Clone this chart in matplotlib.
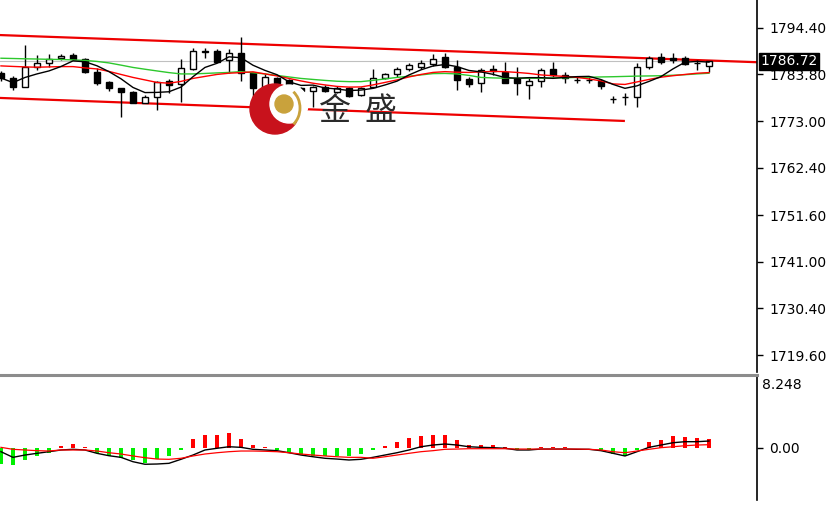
import matplotlib.pyplot as plt
import matplotlib.patches as mpatches
import numpy as np
import pandas as pd

# K线数据 (开, 高, 低, 收)
opens = [1784.0, 1782.85, 1780.8, 1785.36, 1786.27, 1787.41, 1788.1, 1787.2, 1784.35, 1781.9,
         1780.56, 1779.8, 1777.3, 1778.5, 1782.2, 1781.5, 1784.9, 1788.9, 1789.15, 1786.9,
         1788.7, 1784.0, 1780.56, 1782.85, 1782.5, 1780.56, 1779.9, 1780.9, 1779.8, 1780.56,
         1779.0, 1780.9, 1782.85, 1783.8, 1785.0, 1785.5, 1786.0, 1787.6, 1785.5, 1782.6,
         1781.7, 1784.9, 1784.35, 1782.85, 1781.3, 1782.1, 1784.9, 1783.6, 1782.5, 1782.5,
         1782.2, 1778.1, 1778.5, 1778.65, 1785.35, 1787.6, 1787.4, 1787.4, 1786.27, 1785.7]
highs = [1784.5, 1783.4, 1790.45, 1788.17, 1788.4, 1788.33, 1788.7, 1787.4, 1785.1, 1782.3,
         1780.6, 1780.0, 1779.0, 1782.2, 1782.6, 1787.2, 1789.7, 1789.7, 1789.5, 1789.5,
         1792.3, 1784.35, 1783.76, 1783.2, 1782.7, 1780.9, 1781.0, 1781.2, 1781.1, 1780.9,
         1780.9, 1784.9, 1784.1, 1785.4, 1786.4, 1787.0, 1788.3, 1788.55, 1786.9, 1783.1,
         1785.1, 1785.9, 1786.6, 1785.5, 1783.2, 1785.1, 1786.6, 1784.35, 1783.1, 1783.1,
         1782.6, 1778.8, 1779.4, 1786.27, 1788.0, 1788.55, 1788.55, 1787.9, 1786.9, 1786.72]
lows = [1782.2, 1780.2, 1780.8, 1784.74, 1785.5, 1787.0, 1787.0, 1784.0, 1781.3, 1779.9,
        1774.1, 1777.1, 1777.1, 1775.6, 1779.4, 1777.5, 1784.74, 1787.4, 1786.5, 1784.1,
        1782.1, 1777.2, 1779.8, 1781.6, 1780.2, 1776.4, 1776.3, 1779.8, 1779.4, 1778.5,
        1778.7, 1780.56, 1782.6, 1783.2, 1784.6, 1784.9, 1785.7, 1785.1, 1780.2, 1780.8,
        1779.6, 1783.6, 1781.84, 1779.0, 1778.05, 1780.9, 1783.2, 1781.7, 1781.7, 1781.7,
        1780.5, 1777.1, 1776.75, 1776.2, 1785.0, 1786.1, 1786.3, 1785.9, 1784.75, 1784.35]
closes = [1782.9, 1780.8, 1785.35, 1786.27, 1787.25, 1787.94, 1787.2, 1784.35, 1781.7, 1780.56,
          1779.8, 1777.3, 1778.5, 1781.9, 1781.3, 1785.1, 1789.15, 1789.1, 1786.6, 1788.7,
          1784.1, 1780.56, 1783.2, 1781.7, 1780.6, 1780.0, 1780.9, 1779.9, 1780.56, 1778.8,
          1780.56, 1782.85, 1783.76, 1784.9, 1785.9, 1786.4, 1787.2, 1785.5, 1782.5, 1781.5,
          1784.75, 1784.4, 1781.84, 1781.7, 1782.2, 1784.75, 1783.6, 1783.0, 1782.5, 1782.5,
          1781.1, 1778.1, 1778.5, 1785.35, 1787.55, 1786.6, 1786.9, 1786.1, 1786.27, 1786.72]

# 均线
ma_red = [1785.66, 1785.54, 1785.43, 1785.36, 1785.43, 1785.5, 1785.5, 1785.2, 1784.97, 1784.4,
          1783.71, 1783.03, 1782.46, 1781.89, 1781.71, 1782.12, 1782.8, 1783.26, 1783.71, 1783.99,
          1784.13, 1784.31, 1783.83, 1783.37, 1782.8, 1782.23, 1781.71, 1781.32, 1780.98, 1780.82,
          1780.86, 1781.32, 1781.89, 1782.46, 1783.14, 1783.71, 1784.17, 1784.35, 1784.22, 1784.17,
          1784.29, 1784.4, 1784.35, 1784.17, 1783.94, 1783.6, 1783.42, 1783.26, 1783.03, 1782.69,
          1782.23, 1781.55, 1781.43, 1782.0, 1782.57, 1783.08, 1783.42, 1783.71, 1783.99, 1784.13]
ma_green = [1787.41, 1787.35, 1787.28, 1787.23, 1787.16, 1787.12, 1787.03, 1786.91, 1786.68, 1786.34,
            1785.84, 1785.31, 1784.9, 1784.51, 1784.13, 1783.83, 1783.83, 1783.94, 1784.06, 1784.17,
            1784.35, 1784.1, 1783.83, 1783.49, 1783.14, 1782.8, 1782.57, 1782.35, 1782.16, 1782.07,
            1782.07, 1782.35, 1782.69, 1783.03, 1783.3, 1783.6, 1783.9, 1783.94, 1783.83, 1783.49,
            1783.03, 1782.92, 1782.85, 1782.85, 1782.85, 1782.85, 1782.92, 1782.96, 1783.03, 1783.08,
            1783.14, 1783.19, 1783.26, 1783.33, 1783.37, 1783.42, 1783.53, 1783.65, 1783.83, 1783.99]

# MACD 副图
macd_hist = [-1.9, -2.1, -1.5, -0.95, -0.6, 0.15, 0.4, 0.1, -0.7, -1.05,
             -1.2, -1.5, -1.85, -1.4, -1.05, -0.3, 0.95, 1.5, 1.5, 1.7,
             1.05, 0.35, 0.1, -0.25, -0.7, -0.9, -1.0, -1.05, -1.0, -1.05,
             -0.8, -0.3, 0.2, 0.7, 1.1, 1.3, 1.5, 1.45, 0.85, 0.25,
             0.35, 0.35, 0.05, -0.25, -0.25, 0.05, 0.05, 0.05, -0.1, -0.1,
             -0.35, -0.8, -1.0, -0.3, 0.6, 0.9, 1.3, 1.2, 1.15, 1.0]
macd_line = [-0.49, -1.15, -0.88, -0.68, -0.49, -0.29, -0.21, -0.29, -0.68, -0.96,
             -1.15, -1.66, -1.96, -1.93, -1.85, -1.38, -0.88, -0.29, -0.09, 0.09,
             0.02, -0.21, -0.29, -0.37, -0.61, -0.88, -1.08, -1.26, -1.35, -1.46,
             -1.38, -1.15, -0.88, -0.61, -0.29, 0.09, 0.29, 0.41, 0.29, 0.09,
             0.02, -0.02, -0.09, -0.29, -0.29, -0.18, -0.18, -0.18, -0.21, -0.21,
             -0.37, -0.68, -0.99, -0.49, 0.02, 0.29, 0.56, 0.68, 0.68, 0.76]
signal_line = [0.02, -0.21, -0.29, -0.37, -0.41, -0.29, -0.29, -0.29, -0.41, -0.61,
               -0.76, -0.99, -1.19, -1.35, -1.38, -1.26, -0.99, -0.76, -0.61, -0.49,
               -0.41, -0.41, -0.44, -0.49, -0.61, -0.76, -0.88, -0.99, -1.08, -1.15,
               -1.15, -1.26, -1.08, -0.88, -0.68, -0.49, -0.37, -0.21, -0.18, -0.14,
               -0.14, -0.14, -0.14, -0.18, -0.18, -0.18, -0.18, -0.18, -0.18, -0.21,
               -0.29, -0.49, -0.61, -0.41, -0.21, -0.02, 0.09, 0.21, 0.29, 0.33]

# 趋势线端点 (索引, 价格)
upper_trend = [(-0.1, 1792.7), (63.5, 1786.45)]
lower_trend = [(-0.1, 1778.35), (51.9, 1773.1)]

price_ticks = [1794.40, 1783.80, 1773.00, 1762.40, 1751.60, 1741.00, 1730.40, 1719.60]
last_price = 1786.72
macd_top = 8.248

W, H = 838, 505
fig = plt.figure(figsize=(W / 100, H / 100), dpi=100)
fig.patch.set_facecolor('white')

# 主图 / 副图
ax = fig.add_axes([0, 1 - 372 / H, 757 / W, 372 / H])
ax2 = fig.add_axes([0, 5 / H, 757 / W, 123 / H])

x = np.arange(len(closes))
o = np.array(opens)
c = np.array(closes)
bull = c >= o
body_bot = np.minimum(o, c)
body_h = np.abs(c - o)

ax.vlines(x, lows, highs, color='black', lw=1, zorder=3)
ax.bar(x[bull], body_h[bull], bottom=body_bot[bull], width=0.55,
       facecolor='white', edgecolor='black', lw=1, zorder=4)
ax.bar(x[~bull], body_h[~bull], bottom=body_bot[~bull], width=0.55,
       facecolor='black', edgecolor='black', lw=1, zorder=4)

# 均线: 黑线为5日均线
ma_black = pd.Series(closes).rolling(5, min_periods=1).mean()
ax.plot(x, ma_green, color='#2dc82d', lw=1, zorder=5)
ax.plot(x, ma_red, color='#ff0000', lw=1, zorder=5)
ax.plot(x, ma_black, color='black', lw=1, zorder=5)

# 趋势线
ax.plot([p[0] for p in upper_trend], [p[1] for p in upper_trend], color='#ee0000', lw=1.6, zorder=2)
ax.plot([p[0] for p in lower_trend], [p[1] for p in lower_trend], color='#ee0000', lw=1.6, zorder=2)

# 当前价格线
ax.axhline(last_price, color='#c0c0c0', lw=0.8, zorder=1)

ax.set_xlim(-0.08, 63.0)
ax.set_ylim(1715.8, 1800.7)
ax.yaxis.tick_right()
ax.set_yticks(price_ticks)
ax.set_yticklabels([f"{t:.2f}" for t in price_ticks])
ax.set_xticks([])
for s in ['top', 'left', 'bottom']:
    ax.spines[s].set_visible(False)
ax.spines['right'].set_linewidth(1.2)
ax.tick_params(axis='y', length=4, width=1, pad=5, labelsize=10)

ax.text(1.004, last_price, f"{last_price:.2f}", transform=ax.get_yaxis_transform(),
        va='center', ha='left', color='white', fontsize=10, clip_on=False,
        bbox=dict(boxstyle='square,pad=0.1', facecolor='black', edgecolor='black'), zorder=10)

# MACD
h = np.array(macd_hist)
cols = np.where(h >= 0, '#ff0000', '#00f000')
ax2.bar(x, h, width=0.34, color=cols, zorder=2)
ax2.plot(x, macd_line, color='black', lw=1, zorder=3)
ax2.plot(x, signal_line, color='#ff0000', lw=0.9, zorder=3)
ax2.set_xlim(-0.08, 63.0)
ax2.set_ylim(-6.14, macd_top)
ax2.yaxis.tick_right()
ax2.set_yticks([0])
ax2.set_yticklabels(['0.00'])
ax2.set_xticks([])
for s in ['top', 'left', 'bottom']:
    ax2.spines[s].set_visible(False)
ax2.spines['right'].set_linewidth(1.2)
ax2.tick_params(axis='y', length=4, width=1, pad=5, labelsize=10)
ax2.text(1.006, macd_top - 0.15, f"{macd_top:.3f}", transform=ax2.get_yaxis_transform(),
         va='top', ha='left', fontsize=10, clip_on=False)

# 分隔线
fig.add_artist(plt.Line2D([0, 757 / W], [1 - 374.5 / H] * 2, color='#8c8c8c', lw=2.2))

# 水印 logo
lg = fig.add_axes([240 / W, 1 - 140 / H, 170 / W, 60 / H])
lg.set_xlim(240, 410)
lg.set_ylim(140, 80)
lg.axis('off')
lg.add_patch(mpatches.Circle((275, 109), 25, color='#c8121c'))
lg.add_patch(mpatches.Circle((289, 104), 19, color='white'))
lg.add_patch(mpatches.Circle((284, 104), 9, color='#c9a23c'))
lg.add_patch(mpatches.Arc((284, 108), 32, 40, theta1=-60, theta2=60, color='#c9a23c', lw=2))
lg.text(335, 111, '金', fontsize=23, family=['Noto Sans CJK SC'], color='#2a2a2a',
        ha='center', va='center')
lg.text(381, 111, '盛', fontsize=23, family=['Noto Sans CJK SC'], color='#2a2a2a',
        ha='center', va='center')

fig.savefig('out.png', dpi=100)
